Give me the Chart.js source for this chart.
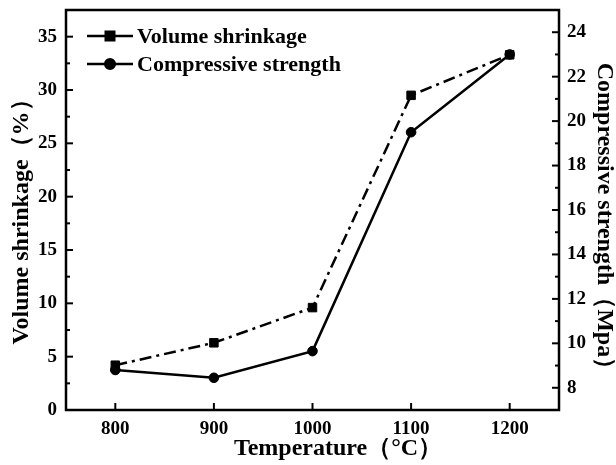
<!DOCTYPE html>
<html>
<head>
<meta charset="utf-8">
<script src="https://cdn.jsdelivr.net/npm/chart.js@4.4.1/dist/chart.umd.min.js"></script>
<style>
html, body { margin: 0; padding: 0; background: #fff; }
#wrap { width: 616px; height: 465px; }
</style>
</head>
<body>
<div id="wrap"><canvas id="mycanvas" width="616" height="465"></canvas></div>
<script>
// firing temperature (°C)
var temps = [800, 900, 1000, 1100, 1200];
// volume shrinkage (%), left axis
var shrinkage = [4.2, 6.3, 9.6, 29.5, 33.3];
// compressive strength (MPa), right axis
var strength = [8.8, 8.45, 9.65, 19.5, 23.0];

var xTicks = [800, 900, 1000, 1100, 1200];
var leftTicks = [0, 5, 10, 15, 20, 25, 30, 35];
var rightTicks = [8, 10, 12, 14, 16, 18, 20, 22, 24];

var serif = "'Liberation Serif', 'Times New Roman', serif";
var tickFont = { family: serif, size: 19, weight: 'bold' };

function pts(ys) {
	var out = [];
	for (var i in temps) out.push({ x: temps[i], y: ys[i] });
	return out;
}

function fixTicks(list) {
	return function(scale) {
		scale.ticks = list.map(function(v) { return { value: v }; });
	};
}

// fixed box sizes so the plot area lands where we want it
function fitWidth(w) {
	return function(s) {
		s.width = w;
		s.paddingTop = 0;
		s.paddingBottom = 0;
	};
}

// frame, inward tick marks, axis titles and the legend box
var framePlugin = {
	id: 'frame',
	afterDraw: function(chart) {
		var ctx = chart.ctx;
		var a = chart.chartArea;
		ctx.save();
		ctx.strokeStyle = '#000';
		ctx.lineWidth = 2.5;
		ctx.strokeRect(a.left, a.top, a.right - a.left, a.bottom - a.top);

		ctx.lineWidth = 2;
		function vTicks(scale, values, x, dir, len) {
			values.forEach(function(v) {
				var y = scale.getPixelForValue(v);
				ctx.beginPath();
				ctx.moveTo(x, y);
				ctx.lineTo(x + dir * len, y);
				ctx.stroke();
			});
		}
		function mids(values) {
			var m = [];
			for (var i = 0; i < values.length; i++) {
				var step = i < values.length - 1 ? values[i + 1] - values[i] : values[i] - values[i - 1];
				m.push(values[i] + step / 2);
			}
			return m;
		}
		var y = chart.scales.y, y1 = chart.scales.y1, x = chart.scales.x;
		vTicks(y, leftTicks, a.left, 1, 7);
		vTicks(y, mids(leftTicks).filter(function(v) { return v < y.max; }), a.left, 1, 4);
		vTicks(y1, rightTicks, a.right, -1, 7);
		vTicks(y1, [7].concat(mids(rightTicks)).filter(function(v) { return v > y1.min && v < y1.max; }), a.right, -1, 4);
		xTicks.forEach(function(v) {
			var px = x.getPixelForValue(v);
			ctx.beginPath();
			ctx.moveTo(px, a.bottom);
			ctx.lineTo(px, a.bottom - 7);
			ctx.stroke();
		});

		// axis titles
		ctx.fillStyle = '#000';
		ctx.font = 'bold 24px ' + serif;
		ctx.textAlign = 'center';
		ctx.textBaseline = 'middle';
		function title(text, cx, cy, rot) {
			ctx.save();
			ctx.translate(cx, cy);
			ctx.rotate(rot);
			ctx.fillText(text, 0, 0);
			ctx.restore();
		}
		title('Temperature（°C）', 338, 449, 0);
		title('Volume shrinkage（%）', 22, 216, -Math.PI / 2);
		title('Compressive strength（Mpa）', 604, 222, Math.PI / 2);

		// legend
		var rows = [
			{ text: 'Volume shrinkage', ds: chart.data.datasets[0], y: 36 },
			{ text: 'Compressive strength', ds: chart.data.datasets[1], y: 64 }
		];
		ctx.font = 'bold 22px ' + serif;
		ctx.textAlign = 'left';
		rows.forEach(function(r) {
			ctx.lineWidth = 2.5;
			ctx.setLineDash([]);
			ctx.beginPath();
			ctx.moveTo(87, r.y);
			ctx.lineTo(133, r.y);
			ctx.stroke();
			Chart.helpers.drawPoint(ctx, {
				pointStyle: r.ds.pointStyle,
				radius: r.ds.pointRadius,
				borderWidth: 1
			}, 110, r.y);
			ctx.fillText(r.text, 137, r.y + 1);
		});
		ctx.restore();
	}
};

var chartdata = {
	datasets: [
		{
			label: 'Volume shrinkage',
			data: pts(shrinkage),
			yAxisID: 'y',
			borderColor: '#000',
			backgroundColor: '#000',
			borderWidth: 2.5,
			borderDash: [12, 5, 3, 5],
			pointStyle: 'rect',
			pointRadius: 6,
			pointBorderWidth: 1,
			pointBackgroundColor: '#000',
			pointBorderColor: '#000'
		},
		{
			label: 'Compressive strength',
			data: pts(strength),
			yAxisID: 'y1',
			borderColor: '#000',
			backgroundColor: '#000',
			borderWidth: 2.5,
			pointStyle: 'circle',
			pointRadius: 4.8,
			pointBorderWidth: 1,
			pointBackgroundColor: '#000',
			pointBorderColor: '#000'
		}
	]
};

var ctx = document.getElementById('mycanvas');

var lineGraph = new Chart(ctx, {
	type: 'line',
	data: chartdata,
	plugins: [framePlugin],
	options: {
		responsive: false,
		animation: false,
		devicePixelRatio: 1,
		layout: { padding: { top: 10, left: 0, right: 0, bottom: 0 } },
		plugins: {
			legend: { display: false },
			tooltip: { enabled: false }
		},
		scales: {
			x: {
				type: 'linear',
				min: 750,
				max: 1250,
				afterBuildTicks: fixTicks(xTicks),
				afterFit: function(s) {
					s.height = 55;
					s.paddingLeft = 0;
					s.paddingRight = 0;
				},
				grid: { display: false, drawTicks: false },
				border: { display: false },
				ticks: {
					color: '#000', font: tickFont, padding: 8, maxRotation: 0,
					callback: function(v) { return String(v); }
				}
			},
			y: {
				position: 'left',
				min: 0,
				max: 37.5,
				afterBuildTicks: fixTicks(leftTicks),
				afterFit: fitWidth(66),
				grid: { display: false, drawTicks: false },
				border: { display: false },
				ticks: { color: '#000', font: tickFont, padding: 9 }
			},
			y1: {
				position: 'right',
				min: 7,
				max: 25,
				afterBuildTicks: fixTicks(rightTicks),
				afterFit: fitWidth(57),
				grid: { display: false, drawTicks: false },
				border: { display: false },
				ticks: { color: '#000', font: tickFont, padding: 8 }
			}
		}
	}
});
</script>
</body>
</html>
